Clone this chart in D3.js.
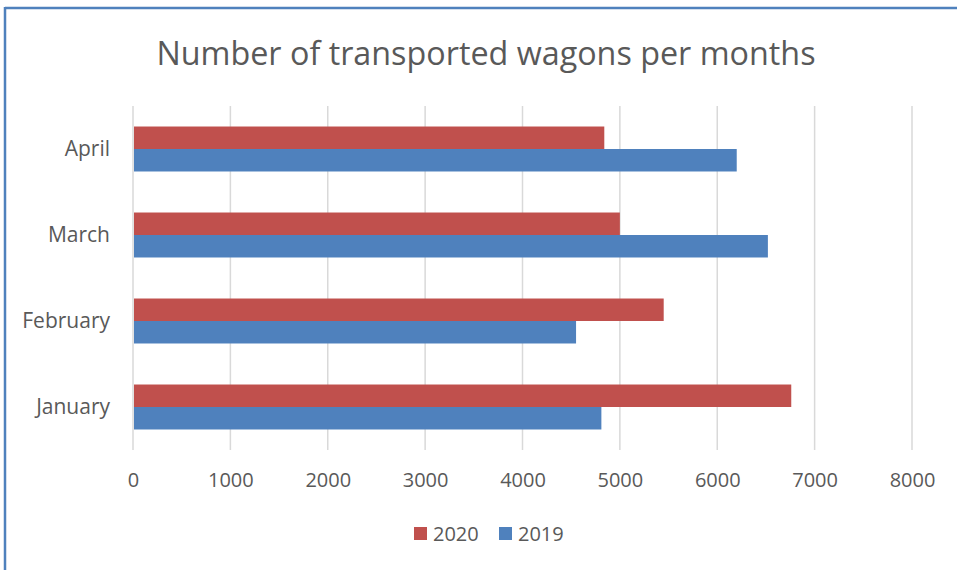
<!DOCTYPE html>
<html>
<head>
<meta charset="utf-8">
<script src="https://cdn.jsdelivr.net/npm/d3@7"></script>
<style>
  body { margin: 0; background: #fff; }
  text { font-family: "Open Sans", sans-serif; fill: #595959; }
</style>
</head>
<body>
<div id="chart"></div>
<script>
// data
var months = ["January", "February", "March", "April"];
var series = ["2020", "2019"];
var values2020 = [6760, 5450, 5000, 4840];
var values2019 = [4810, 4550, 6520, 6200];
var xTicks = [0, 1000, 2000, 3000, 4000, 5000, 6000, 7000, 8000];
var colors = ["#c0504d", "#4f81bd"];

var width = 957, height = 570;
var plot = { left: 133, right: 912, top: 106, bottom: 450 };

var svg = d3.select("#chart").append("svg")
    .attr("width", width)
    .attr("height", height);

// frame (only top and left edges visible)
svg.append("line").attr("x1", 5).attr("x2", width).attr("y1", 8).attr("y2", 8)
   .attr("stroke", "#4f81bd").attr("stroke-width", 2.5);
svg.append("line").attr("x1", 5).attr("x2", 5).attr("y1", 7).attr("y2", height)
   .attr("stroke", "#4f81bd").attr("stroke-width", 2.5);

svg.append("text")
   .attr("x", 486).attr("y", 65)
   .attr("text-anchor", "middle")
   .style("font-size", "32.3px")
   .text("Number of transported wagons per months");

var x = d3.scaleLinear().domain([0, 8000]).range([plot.left, plot.right]);

// January at the bottom, April on top
var y = d3.scaleBand().domain(months.slice().reverse())
    .range([plot.top, plot.bottom])
    .paddingInner(0.477).paddingOuter(0.2385);

var ySub = d3.scaleBand().domain(series).range([0, y.bandwidth()]);

// gridlines
svg.append("g").selectAll("line")
   .data(xTicks).join("line")
   .attr("x1", function(d) { return x(d); })
   .attr("x2", function(d) { return x(d); })
   .attr("y1", plot.top).attr("y2", plot.bottom)
   .attr("stroke", "#d9d9d9").attr("stroke-width", 1.5);

// bars
var rows = months.map(function(m, i) {
  return { month: m, vals: [values2020[i], values2019[i]] };
});

var groups = svg.append("g").selectAll("g")
   .data(rows).join("g")
   .attr("transform", function(d) { return "translate(0," + y(d.month) + ")"; });

groups.selectAll("rect")
   .data(function(d) { return d.vals.map(function(v, j) { return { s: series[j], v: v, c: colors[j] }; }); })
   .join("rect")
   .attr("x", x(0) + 1)
   .attr("y", function(d) { return ySub(d.s); })
   .attr("width", function(d) { return x(d.v) - x(0) - 1; })
   .attr("height", ySub.bandwidth())
   .attr("fill", function(d) { return d.c; });

// x axis labels
var xAxis = d3.axisBottom(x).tickValues(xTicks).tickSize(0).tickPadding(0).tickFormat(d3.format("d"));
var gx = svg.append("g").attr("transform", "translate(0," + 473 + ")").call(xAxis);
gx.select(".domain").remove();
gx.selectAll("text").style("font-size", "20px").attr("fill", "#595959").attr("dy", "0.71em");

// y axis labels
var yAxis = d3.axisLeft(y).tickSize(0).tickPadding(0);
var gy = svg.append("g").attr("transform", "translate(110,0)").call(yAxis);
gy.select(".domain").remove();
gy.selectAll("text").style("font-size", "21px").attr("fill", "#595959").attr("dy", "0.35em");

// legend
var legend = svg.append("g").selectAll("g")
   .data(series).join("g")
   .attr("transform", function(d, i) { return "translate(" + (414 + i * 85) + ",527)"; });
legend.append("rect").attr("width", 13).attr("height", 13)
   .attr("fill", function(d, i) { return colors[i]; });
legend.append("text").attr("x", 19).attr("y", 13.5)
   .style("font-size", "20px")
   .text(function(d) { return d; });
</script>
</body>
</html>
